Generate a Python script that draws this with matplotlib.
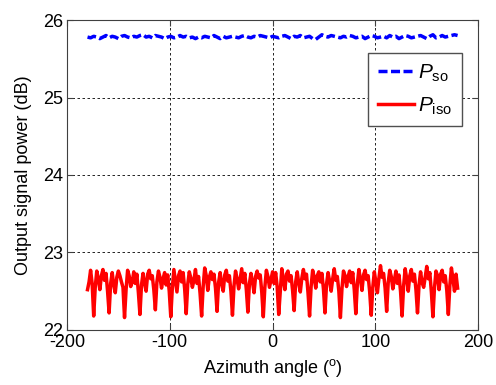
import numpy as np
import matplotlib
matplotlib.use('Agg')
import matplotlib.pyplot as plt

plt.rcParams['font.family'] = ['Liberation Sans', 'DejaVu Sans']
plt.rcParams['mathtext.fontset'] = 'custom'
plt.rcParams['mathtext.rm'] = 'Liberation Sans'
plt.rcParams['mathtext.it'] = 'Liberation Sans:italic'
plt.rcParams['axes.unicode_minus'] = False

# azimuth sampling (degrees)
angle_red = np.arange(-180, 180.1, 1.5)
angle_blue = np.arange(-180, 180.1, 3)

# P_iso (dB), one row per ~15 degree period starting at a deep dip
p_iso = [
    22.52, 22.62, 22.77, 22.60,
    22.18, 22.55, 22.76, 22.66, 22.52, 22.70, 22.78, 22.64, 22.73, 22.50,
    22.22, 22.60, 22.74, 22.58, 22.48, 22.68, 22.76, 22.70, 22.62, 22.55,
    22.16, 22.52, 22.77, 22.70, 22.56, 22.62, 22.75, 22.60, 22.72, 22.48,
    22.20, 22.58, 22.73, 22.60, 22.50, 22.72, 22.77, 22.66, 22.70, 22.52,
    22.26, 22.62, 22.76, 22.68, 22.54, 22.66, 22.74, 22.58, 22.71, 22.50,
    22.17, 22.54, 22.78, 22.64, 22.49, 22.70, 22.76, 22.62, 22.74, 22.53,
    22.21, 22.59, 22.75, 22.67, 22.55, 22.64, 22.78, 22.60, 22.69, 22.47,
    22.18, 22.56, 22.80, 22.70, 22.51, 22.68, 22.75, 22.65, 22.72, 22.54,
    22.24, 22.61, 22.74, 22.59, 22.50, 22.71, 22.77, 22.63, 22.70, 22.50,
    22.19, 22.57, 22.76, 22.66, 22.53, 22.66, 22.79, 22.61, 22.73, 22.52,
    22.23, 22.60, 22.73, 22.62, 22.48, 22.69, 22.76, 22.67, 22.71, 22.49,
    22.17, 22.55, 22.77, 22.69, 22.55, 22.65, 22.75, 22.60, 22.74, 22.56,
    22.20, 22.50, 22.79, 22.64, 22.52, 22.72, 22.76, 22.63, 22.70, 22.51,
    22.25, 22.62, 22.75, 22.60, 22.49, 22.67, 22.78, 22.66, 22.72, 22.48,
    22.18, 22.56, 22.77, 22.68, 22.54, 22.70, 22.75, 22.62, 22.73, 22.53,
    22.22, 22.59, 22.74, 22.63, 22.50, 22.66, 22.79, 22.64, 22.69, 22.50,
    22.16, 22.53, 22.76, 22.70, 22.56, 22.69, 22.76, 22.61, 22.74, 22.52,
    22.21, 22.60, 22.78, 22.65, 22.51, 22.71, 22.77, 22.65, 22.70, 22.49,
    22.19, 22.55, 22.75, 22.62, 22.48, 22.67, 22.83, 22.68, 22.73, 22.54,
    22.24, 22.61, 22.77, 22.69, 22.53, 22.64, 22.76, 22.60, 22.71, 22.50,
    22.18, 22.57, 22.79, 22.66, 22.50, 22.70, 22.78, 22.63, 22.72, 22.52,
    22.22, 22.58, 22.75, 22.61, 22.55, 22.68, 22.82, 22.66, 22.74, 22.49,
    22.17, 22.54, 22.76, 22.70, 22.52, 22.72, 22.77, 22.62, 22.70, 22.51,
    22.20, 22.58, 22.80, 22.66, 22.50, 22.72, 22.54,
]

# P_so (dB)
p_so = [
    25.78, 25.77, 25.79, 25.78, 25.76, 25.78, 25.80, 25.77, 25.79, 25.78,
    25.76, 25.79, 25.80, 25.78, 25.77, 25.79, 25.78, 25.80, 25.81, 25.78,
    25.79, 25.77, 25.80, 25.79, 25.78, 25.76, 25.78, 25.79, 25.77, 25.78,
    25.80, 25.78, 25.79, 25.77, 25.78, 25.76, 25.78, 25.77, 25.79, 25.78,
    25.77, 25.80, 25.78, 25.76, 25.79, 25.77, 25.78, 25.79, 25.78, 25.77,
    25.79, 25.80, 25.78, 25.77, 25.79, 25.78, 25.80, 25.79, 25.78, 25.77,
    25.79, 25.78, 25.77, 25.79, 25.80, 25.78, 25.76, 25.79, 25.78, 25.80,
    25.77, 25.78, 25.79, 25.76, 25.75, 25.78, 25.81, 25.79, 25.78, 25.80,
    25.79, 25.78, 25.77, 25.79, 25.78, 25.80, 25.79, 25.77, 25.78, 25.79,
    25.76, 25.78, 25.80, 25.79, 25.77, 25.78, 25.79, 25.77, 25.80, 25.78,
    25.79, 25.76, 25.78, 25.80, 25.79, 25.77, 25.78, 25.79, 25.80, 25.78,
    25.76, 25.79, 25.81, 25.77, 25.78, 25.80, 25.78, 25.79, 25.80, 25.81,
    25.80,
]

xticks = [-200, -100, 0, 100, 200]
yticks = [22, 23, 24, 25, 26]

fig = plt.figure(figsize=(4.96, 3.85), dpi=100)
ax = fig.add_axes([0.135, 0.143, 0.829, 0.805])

ax.plot(angle_blue, p_so, color='blue', lw=2.5, linestyle='--', dashes=(2.6, 1.0),
        label=r'$P_{\mathrm{so}}$')
ax.plot(angle_red, p_iso, color='red', lw=2.5, label=r'$P_{\mathrm{iso}}$')

ax.set_xlim(-200, 200)
ax.set_ylim(22, 26)
ax.set_xticks(xticks)
ax.set_yticks(yticks)
ax.tick_params(direction='in', top=True, right=True, labelsize=13, length=4,
               color='#404040', pad=3)
for s in ax.spines.values():
    s.set_color('#404040')
    s.set_linewidth(0.8)
ax.grid(True, color='black', linestyle=(0, (3, 3)), linewidth=0.6)

ax.set_xlabel(r'Azimuth angle ($^{\mathrm{o}}$)', fontsize=13, labelpad=4)
ax.set_ylabel('Output signal power (dB)', fontsize=13, labelpad=8)

leg = ax.legend(loc='upper right', bbox_to_anchor=(0.96, 0.893), fontsize=15,
                fancybox=False, edgecolor='#505050', framealpha=1,
                handlelength=1.75, handletextpad=0.2, borderpad=0.45,
                labelspacing=0.55, borderaxespad=0)
leg.get_frame().set_linewidth(1.0)

fig.savefig('out.png', dpi=100)
